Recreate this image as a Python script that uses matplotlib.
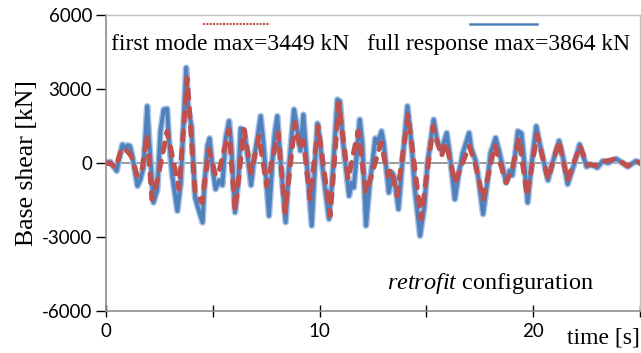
import matplotlib
matplotlib.use("Agg")
import matplotlib.pyplot as plt
import matplotlib.patheffects as pe

# First-mode base shear: time [s] and value [kN] at turning points
mode1_t = [0.0, 0.25, 0.45, 0.7, 0.84, 1.05, 1.2, 1.45, 1.7, 1.92, 2.15, 2.4, 2.86, 3.42,
           3.8, 4.17, 4.49, 4.82, 5.13, 5.3, 5.76, 6.04, 6.46, 6.79, 7.16, 7.52, 8.06,
           8.38, 8.85, 9.1, 9.24, 9.55, 9.93, 10.49, 10.9, 11.33, 11.8, 12.17, 12.5,
           12.87, 13.2, 13.35, 13.63, 14.14, 14.75, 15.31, 15.7, 15.92, 16.34, 17.0,
           17.25, 17.65, 18.2, 18.73, 19.02, 19.33, 19.71, 20.18, 20.69, 21.21, 21.6,
           22.19, 22.5, 22.9, 23.3, 23.88, 24.42, 24.81, 25.0]
mode1_v = [0, -40, -190, 500, 620, 420, 250, -520, -200, 1160, -1470, -700, 1290, -1060,
           3449, -1200, -1600, 550, -520, -300, 1360, -1940, 1360, -400, 1090, -930, 1220,
           -2000, 1630, 550, 900, -1470, 1490, -2140, 2430, -660, 1290, -1200, -300,
           820, -520, -250, -1330, 1960, -2270, 1490, 280, 820, -790, 690,
           100, -1470, 720, -790, -250, 1020, -1330, 1160, -660, 890, -700,
           690, -50, -100, 60, 170, -120, 80, 0]

# Full-response base shear: time [s] and value [kN] at turning points
full_t = [0.0, 0.2, 0.3, 0.5, 0.65, 0.77, 0.9, 1.0, 1.12, 1.25, 1.47, 1.6, 1.75, 1.93,
          2.0, 2.22, 2.4, 2.55, 2.7, 2.86, 2.95, 3.1, 3.34, 3.5, 3.75, 3.85, 4.0, 4.17,
          4.3, 4.52, 4.6, 4.75, 4.85, 5.0, 5.13, 5.3, 5.45, 5.6, 5.76, 5.85, 6.04, 6.2,
          6.3, 6.46, 6.6, 6.79, 6.95, 7.05, 7.24, 7.35, 7.63, 7.8, 7.9, 8.02, 8.15, 8.41,
          8.55, 8.8, 8.95, 9.1, 9.24, 9.35, 9.63, 9.8, 9.9, 10.0, 10.15, 10.44, 10.6,
          10.83, 10.95, 11.1, 11.38, 11.5, 11.6, 11.88, 12.0, 12.17, 12.35, 12.5, 12.6,
          12.7, 12.9, 13.0, 13.24, 13.4, 13.5, 13.69, 13.85, 14.11, 14.3, 14.45, 14.7,
          14.9, 15.05, 15.34, 15.5, 15.7, 15.95, 16.1, 16.33, 16.5, 16.7, 17.0, 17.1,
          17.3, 17.45, 17.65, 17.85, 18.0, 18.24, 18.4, 18.73, 18.9, 19.02, 19.15, 19.28,
          19.45, 19.55, 19.74, 19.9, 20.14, 20.3, 20.69, 20.9, 21.21, 21.4, 21.61, 21.9,
          22.17, 22.5, 22.7, 23.0, 23.25, 23.5, 23.88, 24.1, 24.42, 24.81, 25.0]
full_v = [0, 50, -80, -320, 300, 750, 550, 720, 690, 200, -930, -700, -200, 2300,
          1200, -1600, -1100, 1300, 2170, 2200, 900, -500, -1940, -800, 3864, 2200, 1500, -1400,
          -1800, -2410, -1000, 700, 1000, -300, -1060, -700, -900, 1000, 1700, 900, -2000, -600,
          1400, 1300, 500, -900, 300, 800, 1900, 1000, -2140, 200, 1200, 1900, 300, -2400,
          -300, 2170, 1400, 500, 1960, 600, -2540, 200, 1600, 1000, -300, -2270, -600,
          2570, 2500, 800, -1330, -800, -1000, 1760, 800, -2540, -800, 200, 1000,
          800, 1290, 800, -1200, -400, -600, -1870, -200, 2300, 800, -1000, -2950,
          -1800, 0, 1760, 900, 500, 1220, 300, -1470, -500, 400, 1220, 600,
          100, -700, -2070, -800, 400, 1020, 500, -800, -300, -500, 300, 1290,
          1200, 300, -1600, -200, 1490, 800, -700, 0, 900, 200, -860, -100,
          750, -150, -50, -190, 80, 0, 170, 50, -150, 80, 0]

x_ticks = [0, 5, 10, 15, 20, 25]
x_tick_labels = ["0", "", "10", "", "20", ""]
y_ticks = [-6000, -3000, 0, 3000, 6000]

BLUE = "#4F81BD"
RED = "#C0504D"
SERIF = ["Liberation Serif", "DejaVu Serif"]
SANS = ["Lato", "DejaVu Sans"]

plt.rcParams["mathtext.fontset"] = "custom"
plt.rcParams["mathtext.rm"] = "Liberation Serif"
plt.rcParams["mathtext.it"] = "Liberation Serif:italic"

fig = plt.figure(figsize=(6.41, 3.53), dpi=100)
ax = fig.add_axes([0.1654, 0.119, 0.8331, 0.8385])

ax.set_xlim(0, 25)
ax.set_ylim(-6000, 6000)

# zero reference line with small category ticks
ax.axhline(0, color="#9A9A9A", lw=1.4, zorder=1)
ax.plot(x_ticks, [0] * len(x_ticks), ls="none", marker="|", ms=5, mew=1.2,
        color="#8A8A8A", zorder=1)

ax.plot(full_t, full_v, color=BLUE, lw=2.8, solid_joinstyle="round", zorder=2,
        path_effects=[pe.Stroke(linewidth=4.8, foreground="#A8C2E4"), pe.Normal()])
ax.plot(mode1_t, mode1_v, color=RED, lw=3.6, ls=(0, (1.8, 1.9)),
        dash_capstyle="round", zorder=3)

# legend-style labels with their line samples above
ax.plot([4.54, 7.68], [5620, 5620], color=RED, lw=1.5, ls=(0, (1, 0.6)), zorder=4)
ax.plot([17.04, 20.18], [5640, 5640], color=BLUE, lw=1.8, zorder=4)
ax.text(0.22, 4810, "first mode max=3449 kN", family=SERIF, fontsize=17,
        va="center", ha="left")
ax.text(24.55, 4810, "full response max=3864 kN", family=SERIF, fontsize=17,
        va="center", ha="right")

ax.text(18.0, -4880, r"$\mathit{retrofit}$ configuration", family=SERIF, fontsize=17.5,
        va="center", ha="center")

# frame
for side in ("top", "right"):
    ax.spines[side].set_color("#BFBFBF")
    ax.spines[side].set_linewidth(1.0)
ax.spines["left"].set_color("#8C8C8C")
ax.spines["bottom"].set_color("#8C8C8C")
ax.spines["left"].set_linewidth(1.2)
ax.spines["bottom"].set_linewidth(1.2)

ax.set_yticks(y_ticks)
ax.set_yticklabels([str(v) for v in y_ticks], family=SANS, fontsize=13.5)
ax.set_xticks(x_ticks)
ax.set_xticklabels(x_tick_labels, family=SANS, fontsize=13.5)
ax.tick_params(axis="y", direction="out", length=7, width=1, color="black", pad=3)
ax.tick_params(axis="x", direction="inout", length=8, width=1, color="black", pad=5)

ax.set_ylabel("Base shear [kN]", family=SERIF, fontsize=18.5, labelpad=3)
fig.text(0.999, 0.042, "time [s]", family=SERIF, fontsize=17, ha="right", va="center")

fig.savefig("out.png", dpi=100)
